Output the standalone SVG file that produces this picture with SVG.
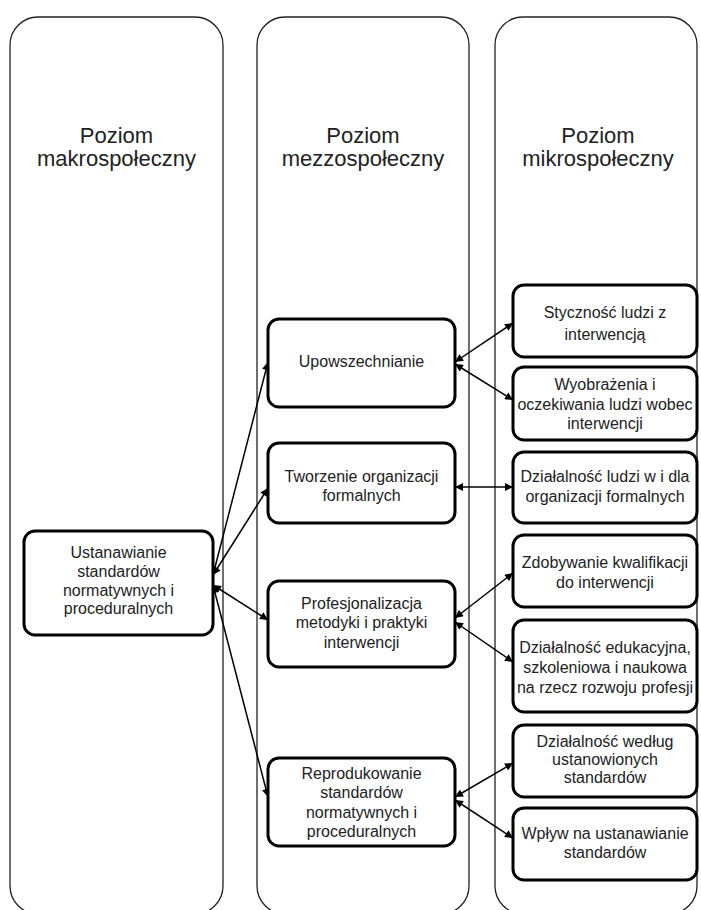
<svg xmlns="http://www.w3.org/2000/svg" width="701" height="910" viewBox="0 0 701 910">
<style>
.col{fill:#fff;stroke:#222;stroke-width:1.3}
.title{font-family:"Liberation Sans",Arial,sans-serif;font-size:22px;fill:#222;text-anchor:middle}
.node{fill:#fff;stroke:#000;stroke-width:3}
.t{font-family:"Liberation Sans",Arial,sans-serif;font-size:16px;fill:#222;text-anchor:middle}
.c{stroke:#000;stroke-width:1.5;fill:none;marker-start:url(#ah);marker-end:url(#ah)}
</style>
<defs>
<marker id="ah" viewBox="0 0 10 10" refX="10" refY="5" markerWidth="9" markerHeight="8" markerUnits="userSpaceOnUse" orient="auto-start-reverse">
<path d="M0,0 L10,5 L0,10 z" fill="#000"/>
</marker>
</defs>
<g id="col-makro">
<rect class="col" x="10" y="17" width="213" height="897" rx="28"/>
<text class="title" x="116.5" y="143">Poziom</text>
<text class="title" x="116.5" y="166">makrospołeczny</text>
</g>
<g id="col-mezzo">
<rect class="col" x="257" y="17" width="212" height="897" rx="28"/>
<text class="title" x="363" y="143">Poziom</text>
<text class="title" x="363" y="166">mezzospołeczny</text>
</g>
<g id="col-mikro">
<rect class="col" x="495" y="17" width="202" height="897" rx="28"/>
<text class="title" x="598" y="143">Poziom</text>
<text class="title" x="598" y="166">mikrospołeczny</text>
</g>
<g id="connectors">
<line class="c" x1="213" y1="575" x2="268" y2="362"/>
<line class="c" x1="213" y1="575" x2="268" y2="488"/>
<line class="c" x1="213" y1="585" x2="268" y2="620"/>
<line class="c" x1="213" y1="585" x2="268" y2="797"/>
<line class="c" x1="455" y1="362" x2="513" y2="323"/>
<line class="c" x1="455" y1="364" x2="513" y2="400"/>
<line class="c" x1="455" y1="487" x2="513" y2="487"/>
<line class="c" x1="455" y1="618" x2="513" y2="573"/>
<line class="c" x1="455" y1="622" x2="513" y2="662"/>
<line class="c" x1="455" y1="797" x2="513" y2="763"/>
<line class="c" x1="455" y1="800" x2="513" y2="838"/>
</g>
<g id="n-ustanawianie">
<rect class="node" x="24" y="531" width="189" height="104" rx="11"/>
<text class="t" x="118.5" y="558">Ustanawianie</text>
<text class="t" x="118.5" y="577">standardów</text>
<text class="t" x="118.5" y="596">normatywnych i</text>
<text class="t" x="118.5" y="614">proceduralnych</text>
</g>
<g id="n-upowszechnianie">
<rect class="node" x="268" y="319" width="187" height="88" rx="11"/>
<text class="t" x="361.5" y="367">Upowszechnianie</text>
</g>
<g id="n-tworzenie">
<rect class="node" x="268" y="443" width="187" height="80" rx="11"/>
<text class="t" x="361.5" y="482">Tworzenie organizacji</text>
<text class="t" x="361.5" y="501">formalnych</text>
</g>
<g id="n-profesjonalizacja">
<rect class="node" x="268" y="581" width="187" height="86" rx="11"/>
<text class="t" x="361.5" y="609">Profesjonalizacja</text>
<text class="t" x="361.5" y="628">metodyki i praktyki</text>
<text class="t" x="361.5" y="648">interwencji</text>
</g>
<g id="n-reprodukowanie">
<rect class="node" x="268" y="758" width="187" height="88" rx="11"/>
<text class="t" x="361.5" y="779">Reprodukowanie</text>
<text class="t" x="361.5" y="798">standardów</text>
<text class="t" x="361.5" y="818">normatywnych i</text>
<text class="t" x="361.5" y="837">proceduralnych</text>
</g>
<g id="n-stycznosc">
<rect class="node" x="513" y="285" width="184" height="72" rx="11"/>
<text class="t" x="605" y="318">Styczność ludzi z</text>
<text class="t" x="605" y="340">interwencją</text>
</g>
<g id="n-wyobrazenia">
<rect class="node" x="513" y="367" width="184" height="73" rx="11"/>
<text class="t" x="605" y="390">Wyobrażenia i</text>
<text class="t" x="605" y="410">oczekiwania ludzi wobec</text>
<text class="t" x="605" y="429">interwencji</text>
</g>
<g id="n-dzialalnosc-ludzi">
<rect class="node" x="513" y="452" width="184" height="71" rx="11"/>
<text class="t" x="605" y="482">Działalność ludzi w i dla</text>
<text class="t" x="605" y="502">organizacji formalnych</text>
</g>
<g id="n-zdobywanie">
<rect class="node" x="513" y="535" width="184" height="72" rx="11"/>
<text class="t" x="605" y="568">Zdobywanie kwalifikacji</text>
<text class="t" x="605" y="588">do interwencji</text>
</g>
<g id="n-edukacyjna">
<rect class="node" x="513" y="620" width="184" height="92" rx="11"/>
<text class="t" x="605" y="653">Działalność edukacyjna,</text>
<text class="t" x="605" y="673">szkoleniowa i naukowa</text>
<text class="t" x="605" y="693">na rzecz rozwoju profesji</text>
</g>
<g id="n-wedlug">
<rect class="node" x="513" y="725" width="184" height="72" rx="11"/>
<text class="t" x="605" y="747">Działalność według</text>
<text class="t" x="605" y="765">ustanowionych</text>
<text class="t" x="605" y="783">standardów</text>
</g>
<g id="n-wplyw">
<rect class="node" x="513" y="808" width="184" height="72" rx="11"/>
<text class="t" x="605" y="839">Wpływ na ustanawianie</text>
<text class="t" x="605" y="858">standardów</text>
</g>
</svg>
